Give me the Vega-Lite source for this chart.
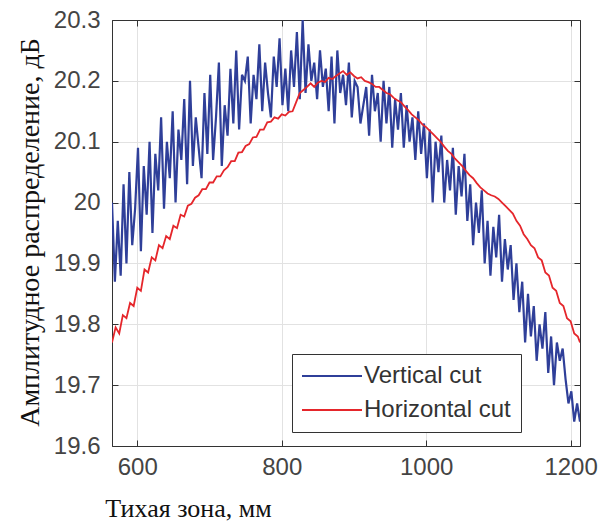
{
  "$schema": "https://vega.github.io/schema/vega-lite/v6.json",
  "autosize": "none",
  "width": 468,
  "height": 426,
  "padding": {"left": 112, "top": 20, "right": 34, "bottom": 82},
  "background": "white",
  "config": {
    "view": {"stroke": "#333333", "strokeWidth": 1},
    "axis": {
      "labelFont": "Liberation Sans",
      "labelFontSize": 24,
      "labelColor": "#444444",
      "domainColor": "#333333",
      "tickColor": "#333333",
      "gridColor": "#e2e2e2",
      "gridWidth": 1,
      "tickSize": -6,
      "titleFont": "Liberation Serif",
      "titleFontWeight": "normal",
      "titleFontSize": 26,
      "titleColor": "#111111"
    },
    "legend": {
      "labelFont": "Liberation Sans",
      "labelFontSize": 24,
      "labelColor": "#333333"
    }
  },
  "datasets": {
    "vert": [
      {"s":"Vertical cut","x":565,"y":20.00},{"s":"Vertical cut","x":569,"y":19.87},{"s":"Vertical cut","x":573,"y":19.97},{"s":"Vertical cut","x":577,"y":19.88},{"s":"Vertical cut","x":581,"y":20.03},{"s":"Vertical cut","x":585,"y":19.90},{"s":"Vertical cut","x":589,"y":20.05},{"s":"Vertical cut","x":593,"y":19.93},{"s":"Vertical cut","x":597,"y":19.99},{"s":"Vertical cut","x":601,"y":20.09},
      {"s":"Vertical cut","x":605,"y":19.92},{"s":"Vertical cut","x":609,"y":20.06},{"s":"Vertical cut","x":613,"y":19.98},{"s":"Vertical cut","x":617,"y":20.10},{"s":"Vertical cut","x":621,"y":19.95},{"s":"Vertical cut","x":625,"y":20.08},{"s":"Vertical cut","x":629,"y":20.02},{"s":"Vertical cut","x":633,"y":20.14},{"s":"Vertical cut","x":637,"y":19.99},{"s":"Vertical cut","x":641,"y":20.10},
      {"s":"Vertical cut","x":645,"y":20.04},{"s":"Vertical cut","x":649,"y":20.15},{"s":"Vertical cut","x":653,"y":20.00},{"s":"Vertical cut","x":657,"y":20.12},{"s":"Vertical cut","x":661,"y":20.07},{"s":"Vertical cut","x":665,"y":20.17},{"s":"Vertical cut","x":669,"y":20.03},{"s":"Vertical cut","x":673,"y":20.20},{"s":"Vertical cut","x":677,"y":20.06},{"s":"Vertical cut","x":681,"y":20.14},
      {"s":"Vertical cut","x":685,"y":20.09},{"s":"Vertical cut","x":689,"y":20.04},{"s":"Vertical cut","x":693,"y":20.18},{"s":"Vertical cut","x":697,"y":20.08},{"s":"Vertical cut","x":701,"y":20.21},{"s":"Vertical cut","x":705,"y":20.07},{"s":"Vertical cut","x":709,"y":20.14},{"s":"Vertical cut","x":713,"y":20.23},{"s":"Vertical cut","x":717,"y":20.06},{"s":"Vertical cut","x":721,"y":20.16},
      {"s":"Vertical cut","x":725,"y":20.11},{"s":"Vertical cut","x":729,"y":20.22},{"s":"Vertical cut","x":733,"y":20.13},{"s":"Vertical cut","x":737,"y":20.25},{"s":"Vertical cut","x":741,"y":20.12},{"s":"Vertical cut","x":745,"y":20.21},{"s":"Vertical cut","x":749,"y":20.20},{"s":"Vertical cut","x":753,"y":20.24},{"s":"Vertical cut","x":757,"y":20.13},{"s":"Vertical cut","x":761,"y":20.21},
      {"s":"Vertical cut","x":765,"y":20.17},{"s":"Vertical cut","x":769,"y":20.26},{"s":"Vertical cut","x":773,"y":20.15},{"s":"Vertical cut","x":777,"y":20.23},{"s":"Vertical cut","x":781,"y":20.18},{"s":"Vertical cut","x":785,"y":20.14},{"s":"Vertical cut","x":789,"y":20.24},{"s":"Vertical cut","x":793,"y":20.19},{"s":"Vertical cut","x":797,"y":20.27},{"s":"Vertical cut","x":801,"y":20.16},
      {"s":"Vertical cut","x":805,"y":20.22},{"s":"Vertical cut","x":809,"y":20.15},{"s":"Vertical cut","x":813,"y":20.25},{"s":"Vertical cut","x":817,"y":20.19},{"s":"Vertical cut","x":821,"y":20.28},{"s":"Vertical cut","x":825,"y":20.17},{"s":"Vertical cut","x":829,"y":20.30},{"s":"Vertical cut","x":833,"y":20.18},{"s":"Vertical cut","x":837,"y":20.26},{"s":"Vertical cut","x":841,"y":20.20},
      {"s":"Vertical cut","x":845,"y":20.23},{"s":"Vertical cut","x":849,"y":20.17},{"s":"Vertical cut","x":853,"y":20.25},{"s":"Vertical cut","x":857,"y":20.19},{"s":"Vertical cut","x":861,"y":20.22},{"s":"Vertical cut","x":865,"y":20.15},{"s":"Vertical cut","x":869,"y":20.24},{"s":"Vertical cut","x":873,"y":20.13},{"s":"Vertical cut","x":877,"y":20.25},{"s":"Vertical cut","x":881,"y":20.18},
      {"s":"Vertical cut","x":885,"y":20.21},{"s":"Vertical cut","x":889,"y":20.16},{"s":"Vertical cut","x":893,"y":20.23},{"s":"Vertical cut","x":897,"y":20.14},{"s":"Vertical cut","x":901,"y":20.20},{"s":"Vertical cut","x":905,"y":20.19},{"s":"Vertical cut","x":909,"y":20.13},{"s":"Vertical cut","x":913,"y":20.16},{"s":"Vertical cut","x":917,"y":20.19},{"s":"Vertical cut","x":921,"y":20.11},
      {"s":"Vertical cut","x":925,"y":20.21},{"s":"Vertical cut","x":929,"y":20.15},{"s":"Vertical cut","x":933,"y":20.18},{"s":"Vertical cut","x":937,"y":20.10},{"s":"Vertical cut","x":941,"y":20.20},{"s":"Vertical cut","x":945,"y":20.13},{"s":"Vertical cut","x":949,"y":20.19},{"s":"Vertical cut","x":953,"y":20.09},{"s":"Vertical cut","x":957,"y":20.17},{"s":"Vertical cut","x":961,"y":20.12},
      {"s":"Vertical cut","x":965,"y":20.18},{"s":"Vertical cut","x":969,"y":20.09},{"s":"Vertical cut","x":973,"y":20.16},{"s":"Vertical cut","x":977,"y":20.10},{"s":"Vertical cut","x":981,"y":20.14},{"s":"Vertical cut","x":985,"y":20.07},{"s":"Vertical cut","x":989,"y":20.15},{"s":"Vertical cut","x":993,"y":20.08},{"s":"Vertical cut","x":997,"y":20.13},{"s":"Vertical cut","x":1001,"y":20.04},
      {"s":"Vertical cut","x":1005,"y":20.12},{"s":"Vertical cut","x":1009,"y":20.00},{"s":"Vertical cut","x":1013,"y":20.10},{"s":"Vertical cut","x":1017,"y":20.05},{"s":"Vertical cut","x":1021,"y":20.11},{"s":"Vertical cut","x":1025,"y":20.00},{"s":"Vertical cut","x":1029,"y":20.07},{"s":"Vertical cut","x":1033,"y":20.02},{"s":"Vertical cut","x":1037,"y":20.09},{"s":"Vertical cut","x":1041,"y":19.98},
      {"s":"Vertical cut","x":1045,"y":20.06},{"s":"Vertical cut","x":1049,"y":20.01},{"s":"Vertical cut","x":1053,"y":20.08},{"s":"Vertical cut","x":1057,"y":19.97},{"s":"Vertical cut","x":1061,"y":20.03},{"s":"Vertical cut","x":1065,"y":19.93},{"s":"Vertical cut","x":1069,"y":20.00},{"s":"Vertical cut","x":1073,"y":19.95},{"s":"Vertical cut","x":1077,"y":20.02},{"s":"Vertical cut","x":1081,"y":19.90},
      {"s":"Vertical cut","x":1085,"y":19.97},{"s":"Vertical cut","x":1089,"y":19.88},{"s":"Vertical cut","x":1093,"y":19.96},{"s":"Vertical cut","x":1097,"y":19.91},{"s":"Vertical cut","x":1101,"y":19.98},{"s":"Vertical cut","x":1105,"y":19.87},{"s":"Vertical cut","x":1109,"y":19.94},{"s":"Vertical cut","x":1113,"y":19.89},{"s":"Vertical cut","x":1117,"y":19.93},{"s":"Vertical cut","x":1121,"y":19.84},
      {"s":"Vertical cut","x":1125,"y":19.90},{"s":"Vertical cut","x":1129,"y":19.82},{"s":"Vertical cut","x":1133,"y":19.87},{"s":"Vertical cut","x":1137,"y":19.77},{"s":"Vertical cut","x":1141,"y":19.85},{"s":"Vertical cut","x":1145,"y":19.78},{"s":"Vertical cut","x":1149,"y":19.83},{"s":"Vertical cut","x":1153,"y":19.74},{"s":"Vertical cut","x":1157,"y":19.80},{"s":"Vertical cut","x":1161,"y":19.76},
      {"s":"Vertical cut","x":1165,"y":19.82},{"s":"Vertical cut","x":1169,"y":19.72},{"s":"Vertical cut","x":1173,"y":19.78},{"s":"Vertical cut","x":1177,"y":19.70},{"s":"Vertical cut","x":1181,"y":19.77},{"s":"Vertical cut","x":1185,"y":19.74},{"s":"Vertical cut","x":1189,"y":19.76},{"s":"Vertical cut","x":1193,"y":19.71},{"s":"Vertical cut","x":1197,"y":19.67},{"s":"Vertical cut","x":1201,"y":19.69},
      {"s":"Vertical cut","x":1205,"y":19.64},{"s":"Vertical cut","x":1209,"y":19.67},{"s":"Vertical cut","x":1213,"y":19.64}
    ],
    "horz": [
      {"s":"Horizontal cut","x":565,"y":19.77},{"s":"Horizontal cut","x":570,"y":19.795},{"s":"Horizontal cut","x":575,"y":19.785},{"s":"Horizontal cut","x":580,"y":19.815},{"s":"Horizontal cut","x":585,"y":19.81},{"s":"Horizontal cut","x":590,"y":19.835},{"s":"Horizontal cut","x":595,"y":19.83},{"s":"Horizontal cut","x":600,"y":19.86},{"s":"Horizontal cut","x":605,"y":19.855},{"s":"Horizontal cut","x":610,"y":19.89},
      {"s":"Horizontal cut","x":615,"y":19.885},{"s":"Horizontal cut","x":620,"y":19.91},{"s":"Horizontal cut","x":625,"y":19.905},{"s":"Horizontal cut","x":630,"y":19.93},{"s":"Horizontal cut","x":635,"y":19.925},{"s":"Horizontal cut","x":640,"y":19.945},{"s":"Horizontal cut","x":645,"y":19.94},{"s":"Horizontal cut","x":650,"y":19.962},{"s":"Horizontal cut","x":655,"y":19.958},{"s":"Horizontal cut","x":660,"y":19.98},
      {"s":"Horizontal cut","x":665,"y":19.977},{"s":"Horizontal cut","x":670,"y":19.995},{"s":"Horizontal cut","x":675,"y":19.998},{"s":"Horizontal cut","x":680,"y":20.008},{"s":"Horizontal cut","x":685,"y":20.012},{"s":"Horizontal cut","x":690,"y":20.022},{"s":"Horizontal cut","x":695,"y":20.022},{"s":"Horizontal cut","x":700,"y":20.033},{"s":"Horizontal cut","x":705,"y":20.033},{"s":"Horizontal cut","x":710,"y":20.043},
      {"s":"Horizontal cut","x":715,"y":20.043},{"s":"Horizontal cut","x":720,"y":20.053},{"s":"Horizontal cut","x":725,"y":20.058},{"s":"Horizontal cut","x":730,"y":20.068},{"s":"Horizontal cut","x":735,"y":20.068},{"s":"Horizontal cut","x":740,"y":20.082},{"s":"Horizontal cut","x":745,"y":20.083},{"s":"Horizontal cut","x":750,"y":20.093},{"s":"Horizontal cut","x":755,"y":20.096},{"s":"Horizontal cut","x":760,"y":20.107},
      {"s":"Horizontal cut","x":765,"y":20.108},{"s":"Horizontal cut","x":770,"y":20.12},{"s":"Horizontal cut","x":775,"y":20.12},{"s":"Horizontal cut","x":780,"y":20.132},{"s":"Horizontal cut","x":785,"y":20.133},{"s":"Horizontal cut","x":790,"y":20.14},{"s":"Horizontal cut","x":795,"y":20.138},{"s":"Horizontal cut","x":800,"y":20.145},{"s":"Horizontal cut","x":805,"y":20.143},{"s":"Horizontal cut","x":810,"y":20.149},
      {"s":"Horizontal cut","x":815,"y":20.15},{"s":"Horizontal cut","x":820,"y":20.165},{"s":"Horizontal cut","x":825,"y":20.18},{"s":"Horizontal cut","x":830,"y":20.185},{"s":"Horizontal cut","x":835,"y":20.19},{"s":"Horizontal cut","x":840,"y":20.196},{"s":"Horizontal cut","x":845,"y":20.19},{"s":"Horizontal cut","x":850,"y":20.197},{"s":"Horizontal cut","x":855,"y":20.2},{"s":"Horizontal cut","x":860,"y":20.198},
      {"s":"Horizontal cut","x":865,"y":20.205},{"s":"Horizontal cut","x":870,"y":20.203},{"s":"Horizontal cut","x":875,"y":20.208},{"s":"Horizontal cut","x":880,"y":20.212},{"s":"Horizontal cut","x":885,"y":20.216},{"s":"Horizontal cut","x":890,"y":20.21},{"s":"Horizontal cut","x":895,"y":20.214},{"s":"Horizontal cut","x":900,"y":20.208},{"s":"Horizontal cut","x":905,"y":20.204},{"s":"Horizontal cut","x":910,"y":20.206},
      {"s":"Horizontal cut","x":915,"y":20.2},{"s":"Horizontal cut","x":920,"y":20.198},{"s":"Horizontal cut","x":925,"y":20.195},{"s":"Horizontal cut","x":930,"y":20.19},{"s":"Horizontal cut","x":935,"y":20.19},{"s":"Horizontal cut","x":940,"y":20.185},{"s":"Horizontal cut","x":945,"y":20.18},{"s":"Horizontal cut","x":950,"y":20.178},{"s":"Horizontal cut","x":955,"y":20.172},{"s":"Horizontal cut","x":960,"y":20.168},
      {"s":"Horizontal cut","x":965,"y":20.165},{"s":"Horizontal cut","x":970,"y":20.158},{"s":"Horizontal cut","x":975,"y":20.152},{"s":"Horizontal cut","x":980,"y":20.145},{"s":"Horizontal cut","x":985,"y":20.14},{"s":"Horizontal cut","x":990,"y":20.135},{"s":"Horizontal cut","x":995,"y":20.128},{"s":"Horizontal cut","x":1000,"y":20.124},{"s":"Horizontal cut","x":1005,"y":20.118},{"s":"Horizontal cut","x":1010,"y":20.112},
      {"s":"Horizontal cut","x":1015,"y":20.106},{"s":"Horizontal cut","x":1020,"y":20.1},{"s":"Horizontal cut","x":1025,"y":20.092},{"s":"Horizontal cut","x":1030,"y":20.085},{"s":"Horizontal cut","x":1035,"y":20.08},{"s":"Horizontal cut","x":1040,"y":20.072},{"s":"Horizontal cut","x":1045,"y":20.066},{"s":"Horizontal cut","x":1050,"y":20.06},{"s":"Horizontal cut","x":1055,"y":20.052},{"s":"Horizontal cut","x":1060,"y":20.045},
      {"s":"Horizontal cut","x":1065,"y":20.04},{"s":"Horizontal cut","x":1070,"y":20.032},{"s":"Horizontal cut","x":1075,"y":20.025},{"s":"Horizontal cut","x":1080,"y":20.02},{"s":"Horizontal cut","x":1085,"y":20.015},{"s":"Horizontal cut","x":1090,"y":20.012},{"s":"Horizontal cut","x":1095,"y":20.01},{"s":"Horizontal cut","x":1100,"y":20.006},{"s":"Horizontal cut","x":1105,"y":20.0},{"s":"Horizontal cut","x":1110,"y":19.994},
      {"s":"Horizontal cut","x":1115,"y":19.988},{"s":"Horizontal cut","x":1120,"y":19.982},{"s":"Horizontal cut","x":1125,"y":19.97},{"s":"Horizontal cut","x":1130,"y":19.962},{"s":"Horizontal cut","x":1135,"y":19.948},{"s":"Horizontal cut","x":1140,"y":19.94},{"s":"Horizontal cut","x":1145,"y":19.93},{"s":"Horizontal cut","x":1150,"y":19.925},{"s":"Horizontal cut","x":1155,"y":19.91},{"s":"Horizontal cut","x":1160,"y":19.905},
      {"s":"Horizontal cut","x":1165,"y":19.885},{"s":"Horizontal cut","x":1170,"y":19.88},{"s":"Horizontal cut","x":1175,"y":19.86},{"s":"Horizontal cut","x":1180,"y":19.855},{"s":"Horizontal cut","x":1185,"y":19.835},{"s":"Horizontal cut","x":1190,"y":19.83},{"s":"Horizontal cut","x":1195,"y":19.81},{"s":"Horizontal cut","x":1200,"y":19.805},{"s":"Horizontal cut","x":1205,"y":19.785},{"s":"Horizontal cut","x":1210,"y":19.78},
      {"s":"Horizontal cut","x":1213,"y":19.77}
    ]
  },
  "resolve": {"axis": {"x": "independent", "y": "independent"}},
  "layer": [
    {
      "data": {"name": "vert"},
      "mark": {"type": "line", "strokeWidth": 2.2, "clip": true, "interpolate": "linear"},
      "encoding": {
        "x": {
          "field": "x", "type": "quantitative",
          "scale": {"domain": [565, 1213], "nice": false, "zero": false},
          "axis": {
            "orient": "bottom",
            "values": [600, 800, 1000, 1200],
            "format": "d",
            "grid": true,
            "labelPadding": 15,
            "title": "Тихая зона, мм",
            "titleX": 76,
            "titleY": 70,
            "titleAlign": "center",
            "titleBaseline": "alphabetic"
          }
        },
        "y": {
          "field": "y", "type": "quantitative",
          "scale": {"domain": [19.6, 20.3], "nice": false, "zero": false},
          "axis": {
            "orient": "left",
            "values": [19.6, 19.7, 19.8, 19.9, 20.0, 20.1, 20.2, 20.3],
            "format": "~g",
            "grid": true,
            "labelPadding": 18,
            "title": "Амплитудное распределение, дБ",
            "titleFontSize": 28,
            "titleX": -74,
            "titleY": 212,
            "titleAngle": -90,
            "titleAlign": "center",
            "titleBaseline": "alphabetic"
          }
        },
        "color": {
          "field": "s", "type": "nominal",
          "scale": {"domain": ["Vertical cut", "Horizontal cut"], "range": ["#2f3f99", "#e5262b"]},
          "legend": {
            "title": null,
            "orient": "none",
            "legendX": 180,
            "legendY": 334,
            "direction": "vertical",
            "symbolType": "M-3,0H3",
            "symbolSize": 400,
            "symbolOffset": 18,
            "symbolStrokeWidth": 2,
            "labelOffset": 20,
            "rowPadding": 10,
            "padding": 10,
            "strokeColor": "#333333",
            "fillColor": "white"
          }
        }
      }
    },
    {
      "data": {"name": "horz"},
      "mark": {"type": "line", "strokeWidth": 1.8, "clip": true},
      "encoding": {
        "x": {
          "field": "x", "type": "quantitative",
          "axis": {"orient": "top", "values": [600, 800, 1000, 1200], "labels": false, "grid": false, "title": null}
        },
        "y": {
          "field": "y", "type": "quantitative",
          "axis": {"orient": "right", "values": [19.6, 19.7, 19.8, 19.9, 20.0, 20.1, 20.2, 20.3], "labels": false, "grid": false, "title": null}
        },
        "color": {"field": "s", "type": "nominal"}
      }
    }
  ]
}
